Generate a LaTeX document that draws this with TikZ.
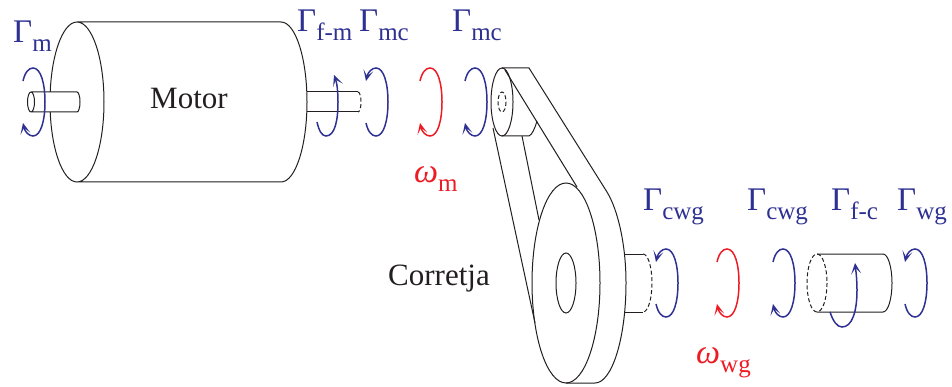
\documentclass[tikz,border=0pt]{standalone}
\usepackage{fontspec}
\setmainfont{Liberation Serif}
\usetikzlibrary{arrows.meta}
\definecolor{torqueblue}{RGB}{46,49,146}
\definecolor{speedred}{RGB}{237,28,36}
\definecolor{inkblack}{RGB}{35,31,32}
\newcommand{\gammalabel}[1]{{\fontsize{33}{33}\selectfont\textup{Γ}}\raisebox{-9pt}{\fontsize{25}{25}\selectfont #1}}
\newcommand{\omegalabel}[1]{{\fontsize{34}{34}\selectfont\textit{ω}}\raisebox{-9pt}{\fontsize{25}{25}\selectfont #1}}
\begin{document}
\begin{tikzpicture}[x=1pt,y=-1pt,
  part/.style={draw=inkblack,line width=1pt},
  hiddenpart/.style={part,dash pattern=on 4pt off 2.5pt},
  spin/.style={line width=1.5pt,>={Stealth[length=11pt,width=10pt,inset=6pt,fill=none]}},
  gam/.style={text=torqueblue,anchor=base west,inner sep=0pt},
  ome/.style={text=speedred,anchor=base west,inner sep=0pt},
  partname/.style={text=inkblack,anchor=base west,inner sep=0pt,font=\fontsize{31}{31}\selectfont},
]
  \useasboundingbox (0,0) rectangle (952,387);

  % motor body and shafts
  \draw[part] (77,22) arc[start angle=-90,end angle=90,x radius=27,y radius=80]
     arc[start angle=90,end angle=270,x radius=27,y radius=80] -- (281,22)
     arc[start angle=-90,end angle=90,x radius=26,y radius=80] -- (77,182);
  \draw[part,fill=white] (31,92) -- (77,92) arc[start angle=-90,end angle=90,x radius=3,y radius=10] -- (31,112)
     arc[start angle=90,end angle=270,x radius=3.5,y radius=10]
     arc[start angle=-90,end angle=90,x radius=3.5,y radius=10];
  \draw[part] (307,92) -- (358,92);
  \draw[part] (307,112) -- (358,112);
  \draw[hiddenpart] (358,92) arc[start angle=-90,end angle=90,x radius=3,y radius=10];

  % small pulley
  \draw[part] (502,102) ellipse[x radius=11,y radius=34];
  \draw[hiddenpart] (502,102) ellipse[x radius=4,y radius=10];
  \draw[part] (502,68) -- (529,68) -- (607,192);
  \draw[part] (502,136) -- (529,136) .. controls (532,135) and (535,128) .. (537,121);
  \draw[part] (505,70) -- (577,187);
  \draw[part] (493,128) -- (535,323);
  \draw[part] (522,136) -- (539,220);

  % big pulley
  \draw[part] (566,283) ellipse[x radius=34,y radius=100];
  \draw[part] (566,283) ellipse[x radius=10,y radius=30];
  \draw[part] (566,383) -- (595,383) .. controls (612,383) and (626,338) .. (626,283)
     .. controls (626,245) and (618,210) .. (607,192);
  \draw[part] (625,254) -- (643,254);
  \draw[part] (625,312) -- (643,312);
  \draw[hiddenpart] (643,254) arc[start angle=-90,end angle=90,x radius=9,y radius=29];

  % output cylinder
  \draw[hiddenpart] (817,283) ellipse[x radius=10,y radius=29];
  \draw[part] (817,254) -- (883,254) arc[start angle=-90,end angle=90,x radius=9,y radius=29] -- (817,312);

  % rotation arcs
  \foreach \x/\y/\tip/\col in {32/102/->/torqueblue,375/102/<-/torqueblue,429/102/->/speedred,474/102/->/torqueblue,
      665/283/<-/torqueblue,726/283/->/speedred,782/283/->/torqueblue,914/283/<-/torqueblue} {
    \draw[spin,\tip,\col,shift={(\x,\y)}] (-9,-21) .. controls (-7,-30) and (-3,-34) .. (1,-34)
       .. controls (9,-34) and (13,-18) .. (13,0) .. controls (13,18) and (9,34) .. (1,34)
       .. controls (-3,34) and (-7,30) .. (-9,21);
  }
  \draw[spin,->,torqueblue] (317,122) .. controls (319,131) and (322,136) .. (326,136)
     .. controls (335,136) and (338,120) .. (338,102) .. controls (338,92) and (337,83) .. (334,75);
  \draw[spin,->,torqueblue] (830,312) .. controls (833,321) and (837,327) .. (842,327)
     .. controls (852,327) and (857,312) .. (857,290) .. controls (857,280) and (856,272) .. (855,263);

  % labels
  \foreach \n/\x/\y/\sub in {a/13/43/m,b/297/32/f-m,c/359/32/mc,d/452/32/mc,e/643/211/cwg,f/747/211/cwg,g/831/211/f-c,h/897/211/wg} {
    \node[gam] (gamma\n) at (\x,\y) {\gammalabel{\sub}};
  }
  \node[ome] (omegam) at (414,183) {\omegalabel{m}};
  \node[ome] (omegawg) at (696,363) {\omegalabel{wg}};
  \node[partname] (motor) at (150,109) {Motor};
  \node[partname] (corretja) at (388,285) {Corretja};
\end{tikzpicture}
\end{document}
